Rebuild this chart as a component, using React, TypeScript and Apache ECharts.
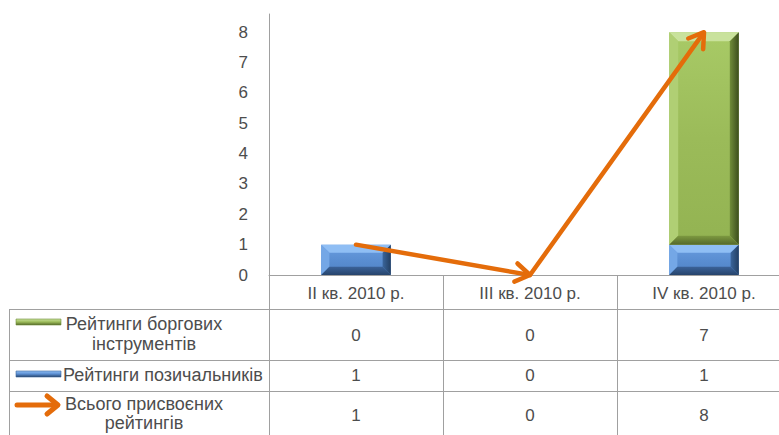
import React, { useEffect, useRef } from "react";
import * as echarts from "echarts";

const categories = ["II кв. 2010 р.", "III кв. 2010 р.", "IV кв. 2010 р."];
const debtRatings = [0, 0, 7];
const borrowerRatings = [1, 0, 1];
const totalRatings = [1, 0, 8];
const yTicks = [0, 1, 2, 3, 4, 5, 6, 7, 8];
const seriesNames = ["Рейтинги боргових\nінструментів", "Рейтинги позичальників", "Всього присвоєних\nрейтингів"];

const FONT = "'Liberation Sans', Arial, sans-serif";
const FS = 17;
const FS_NAME = 18;
const TEXT = "#4d4d4d";
const GRID_LINE = "#a0a0a0";
const ORANGE = "#E46C0A";

const W = 779;
const H = 435;
const GRID_LEFT = 269;
const GRID_TOP = 14;
const GRID_W = 522;
const AXIS_Y = 275;

const greenPal = {
  face: ["#a8ca66", "#9bbb59", "#93b352"],
  top: "#c9e29c",
  left: "#b0cf74",
  right: ["#718d3a", "#3c4d1d"],
  bottom: ["#7d9a41", "#55692a"],
};
const bluePal = {
  face: ["#6a9de0", "#5a8ed2", "#4f82c4"],
  top: "#8fbef4",
  left: "#74a7e6",
  right: ["#3a659b", "#233f62"],
  bottom: ["#3b6298", "#26446c"],
};

function lg(x2: number, y2: number, cols: string[]) {
  return new echarts.graphic.LinearGradient(
    0,
    0,
    x2,
    y2,
    cols.map((c, i) => ({ offset: cols.length === 1 ? 0 : i / (cols.length - 1), color: c }))
  );
}

function bevelBar(pal: typeof greenPal) {
  return (params: any, api: any) => {
    const i = api.value(0);
    const base = api.value(1);
    const top = api.value(2);
    if (!(top - base > 0)) return { type: "group", children: [] };
    const pb = api.coord([i, base]);
    const pt = api.coord([i, top]);
    const w = api.size([1, 0])[0] * 0.4;
    const x0 = pb[0] - w / 2;
    const x1 = pb[0] + w / 2;
    const y0 = pt[1];
    const y1 = pb[1];
    const h = y1 - y0;
    const b = Math.min(9, h * 0.27);
    return {
      type: "group",
      children: [
        { type: "rect", shape: { x: x0, y: y0, width: w, height: h }, style: { fill: lg(0, 1, pal.face) } },
        {
          type: "polygon",
          shape: { points: [[x0, y0], [x1, y0], [x1 - b, y0 + b], [x0 + b, y0 + b]] },
          style: { fill: pal.top },
        },
        {
          type: "polygon",
          shape: { points: [[x0, y0], [x0 + b, y0 + b], [x0 + b, y1 - b], [x0, y1]] },
          style: { fill: pal.left },
        },
        {
          type: "polygon",
          shape: { points: [[x1, y0], [x1, y1], [x1 - b, y1 - b], [x1 - b, y0 + b]] },
          style: {
            fill: new echarts.graphic.LinearGradient(1, 0, 0, 0, [
              { offset: 0, color: pal.right[1] },
              { offset: 1, color: pal.right[0] },
            ]),
          },
        },
        {
          type: "polygon",
          shape: { points: [[x0, y1], [x0 + b, y1 - b], [x1 - b, y1 - b], [x1, y1]] },
          style: { fill: lg(0, 1, pal.bottom) },
        },
      ],
    };
  };
}

function arrowHead(tip: number[], ux: number, uy: number, len: number, ang: number) {
  const c = Math.cos(ang);
  const s = Math.sin(ang);
  const bx = -ux;
  const by = -uy;
  const a1 = [tip[0] + len * (bx * c - by * s), tip[1] + len * (bx * s + by * c)];
  const a2 = [tip[0] + len * (bx * c + by * s), tip[1] + len * (-bx * s + by * c)];
  return [a1, tip, a2];
}

function arrowSeg(params: any, api: any) {
  const i = api.value(0);
  if (i < 1) return { type: "group", children: [] };
  const a = api.coord([i - 1, totalRatings[i - 1]]);
  const b = api.coord([i, api.value(1)]);
  const dx = b[0] - a[0];
  const dy = b[1] - a[1];
  const len = Math.sqrt(dx * dx + dy * dy);
  const ux = dx / len;
  const uy = dy / len;
  const end = [b[0] - ux * 2, b[1] - uy * 2];
  return {
    type: "group",
    children: [
      {
        type: "line",
        shape: { x1: a[0], y1: a[1], x2: end[0], y2: end[1] },
        style: { stroke: ORANGE, lineWidth: 4.5, lineCap: "round" },
      },
      {
        type: "polyline",
        shape: { points: arrowHead(b, ux, uy, 17, Math.PI / 5.5) },
        style: { stroke: ORANGE, lineWidth: 4.5, lineCap: "round", lineJoin: "round", fill: "none" },
      },
    ],
  };
}

export default function App() {
  const ref = useRef<HTMLDivElement>(null);
  useEffect(() => {
    if (!ref.current) return;
    const chart = echarts.init(ref.current, null, { renderer: "svg" });

    const blueData = borrowerRatings.map((v, i) => [i, 0, v]);
    const greenData = debtRatings.map((v, i) => [i, borrowerRatings[i], borrowerRatings[i] + v]);
    const totalData = totalRatings.map((v, i) => [i, v]);

    chart.setOption({
      animation: false,
      backgroundColor: "#ffffff",
      textStyle: { fontFamily: FONT },
      grid: {
        left: GRID_LEFT,
        top: GRID_TOP,
        width: GRID_W,
        height: AXIS_Y - GRID_TOP,
        containLabel: false,
        outerBoundsMode: "none",
      },
      xAxis: {
        type: "category",
        data: categories,
        axisLine: { show: true, lineStyle: { color: GRID_LINE, width: 1 } },
        axisTick: { show: true, length: H - AXIS_Y + 5, interval: 0, lineStyle: { color: GRID_LINE } },
        axisLabel: { color: TEXT, fontSize: FS, fontFamily: FONT, margin: 10, interval: 0 },
        splitLine: { show: false },
      },
      yAxis: {
        type: "value",
        min: 0,
        max: 8.6,
        interval: 1,
        axisLine: { show: true, lineStyle: { color: GRID_LINE, width: 1 } },
        axisTick: { show: false },
        splitLine: { show: false },
        axisLabel: {
          color: TEXT,
          fontSize: FS,
          fontFamily: FONT,
          margin: 21,
          showMaxLabel: false,
          formatter: (v: number) => (yTicks.indexOf(v) >= 0 ? String(v) : ""),
        },
      },
      series: [
        {
          type: "custom",
          name: seriesNames[1],
          renderItem: bevelBar(bluePal),
          data: blueData,
          encode: { x: 0, y: [1, 2] },
          z: 2,
        },
        {
          type: "custom",
          name: seriesNames[0],
          renderItem: bevelBar(greenPal),
          data: greenData,
          encode: { x: 0, y: [1, 2] },
          z: 2,
        },
        {
          type: "custom",
          name: seriesNames[2],
          renderItem: arrowSeg,
          data: totalData,
          encode: { x: 0, y: 1 },
          z: 5,
          clip: false,
        },
      ],
    });

    // Data table under the chart
    const rowLines = [309, 360, 391];
    const rowCenters = [335, 375, 415];
    const rowsValues = [debtRatings, borrowerRatings, totalRatings];
    const colX = categories.map((c, i) => chart.convertToPixel({ xAxisIndex: 0 }, i) as number);

    const font = `${FS}px ${FONT}`;
    const nameFont = `${FS_NAME}px ${FONT}`;
    const g: any[] = [];
    rowLines.forEach((y) => {
      g.push({ type: "line", shape: { x1: 9, y1: y + 0.5, x2: W, y2: y + 0.5 }, style: { stroke: GRID_LINE, lineWidth: 1 } });
    });
    g.push({ type: "line", shape: { x1: 9.5, y1: 309, x2: 9.5, y2: H }, style: { stroke: GRID_LINE, lineWidth: 1 } });

    rowsValues.forEach((vals, r) => {
      vals.forEach((v, c) => {
        g.push({
          type: "text",
          x: colX[c],
          y: rowCenters[r],
          style: { text: String(v), fill: TEXT, font, textAlign: "center", textVerticalAlign: "middle" },
        });
      });
    });

    // legend keys + names
    const keyBar = (y: number, pal: typeof greenPal) => ({
      type: "rect",
      shape: { x: 16, y: y - 3, width: 45, height: 6 },
      style: { fill: lg(0, 1, [pal.top, pal.face[1], pal.bottom[1]]), stroke: pal.right[0], lineWidth: 0.6 },
    });
    g.push(keyBar(322, greenPal));
    g.push(keyBar(374, bluePal));
    g.push({ type: "line", shape: { x1: 17, y1: 405, x2: 56, y2: 405 }, style: { stroke: ORANGE, lineWidth: 5, lineCap: "round" } });
    g.push({
      type: "polyline",
      shape: { points: [[47, 396], [58, 405], [47, 414]] },
      style: { stroke: ORANGE, lineWidth: 5, lineCap: "round", lineJoin: "round", fill: "none" },
    });

    const nameLines = seriesNames.map((n) => n.split("\n"));
    const txt = (x: number, y: number, s: string, align: string) => ({
      type: "text",
      x,
      y,
      style: { text: s, fill: TEXT, font: nameFont, textAlign: align, textVerticalAlign: "middle" },
    });
    g.push(txt(144, 324, nameLines[0][0], "center"));
    g.push(txt(144, 344, nameLines[0][1], "center"));
    g.push(txt(63, 375, nameLines[1][0], "left"));
    g.push(txt(144, 404, nameLines[2][0], "center"));
    g.push(txt(144, 423, nameLines[2][1], "center"));

    chart.setOption({ graphic: g });

    return () => chart.dispose();
  }, []);

  return <div ref={ref} style={{ position: "absolute", left: 0, top: 0, width: W, height: H }} />;
}
